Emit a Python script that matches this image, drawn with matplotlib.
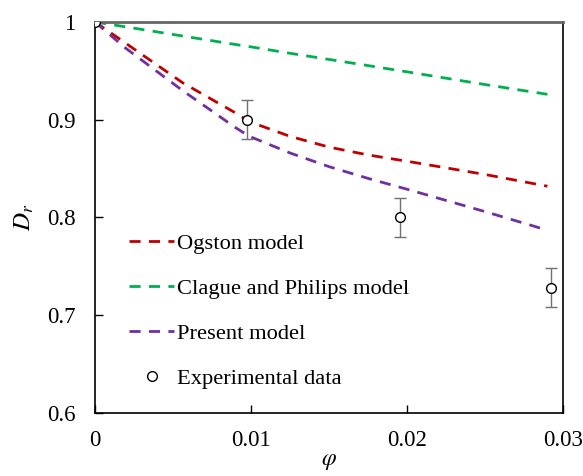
import numpy as np
import matplotlib
matplotlib.use('Agg')
import matplotlib.pyplot as plt

plt.rcParams['font.family'] = ['Liberation Serif', 'DejaVu Serif']
plt.rcParams['mathtext.fontset'] = 'stix'

# model curves
phi_model = [0, 0.0019, 0.0056, 0.009, 0.0099, 0.0125, 0.015, 0.0175, 0.0202, 0.025, 0.029]
ogston = [1.0, 0.979, 0.938, 0.907, 0.898, 0.883, 0.872, 0.864, 0.857, 0.844, 0.832]
clague = [1.0, 0.9952, 0.9857, 0.977, 0.9748, 0.968, 0.9617, 0.9554, 0.9485, 0.936, 0.926]
present = [1.0, 0.974, 0.930, 0.892, 0.883, 0.866, 0.852, 0.840, 0.828, 0.806, 0.787]

# experimental data
phi_exp = [0, 0.00975, 0.01955, 0.02923]
d_exp = [1.0, 0.9, 0.8, 0.728]
d_err = [0, 0.02, 0.02, 0.02]

fig = plt.figure(figsize=(5.83, 4.76), dpi=100)
ax = fig.add_axes([0.163, 0.1324, 0.8027, 0.8214])

ax.plot(phi_model, ogston, '--', color='#c00000', lw=2, dashes=(4, 3), label='Ogston model')
ax.plot(phi_model, clague, '--', color='#00b050', lw=2, dashes=(4, 3), label='Clague and Philips model')
ax.plot(phi_model, present, '--', color='#7030a0', lw=2, dashes=(4, 3), label='Present model')
ax.errorbar(phi_exp, d_exp, yerr=d_err, fmt='none', ecolor='#707070', elinewidth=1, capsize=4, capthick=1)
ax.plot(phi_exp, d_exp, 'o', mfc='white', mec='black', ms=7, mew=1, ls='none',
        label='Experimental data', zorder=5)

ax.set_xlim(0, 0.03)
ax.set_ylim(0.6, 1.0)
ax.set_xticks([0, 0.01, 0.02, 0.03])
ax.set_xticklabels(['0', '0.01', '0.02', '0.03'])
ax.set_yticks([0.6, 0.7, 0.8, 0.9, 1.0])
ax.set_yticklabels(['0.6', '0.7', '0.8', '0.9', '1'])
ax.tick_params(direction='in', length=6, labelsize=16.5, width=1)
ax.tick_params(axis='y', pad=14)
ax.tick_params(axis='x', pad=12)
ax.spines['top'].set_color('#666666')
ax.spines['top'].set_linewidth(2)
for s in ['left', 'right', 'bottom']:
    ax.spines[s].set_linewidth(1.2)

ax.set_xlabel(r'$\varphi$', fontsize=17, labelpad=0)
ax.set_ylabel(r'$D_r$', fontsize=18, labelpad=8)

ax.legend(loc='lower left', bbox_to_anchor=(0.03, 0.01), frameon=False, fontsize=16.2,
          handlelength=2.0, handletextpad=0.1, labelspacing=1.08, numpoints=1)

fig.savefig('out.png', dpi=100)
